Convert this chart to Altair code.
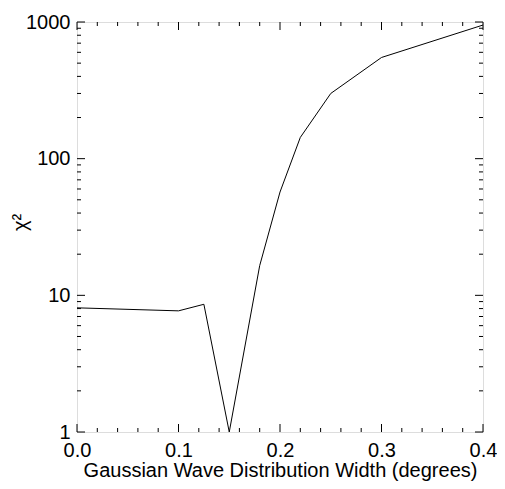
import altair as alt
import pandas as pd

# Data
width_deg = [0.0, 0.1, 0.125, 0.15, 0.18, 0.2, 0.22, 0.25, 0.3, 0.4]
chi2 = [8.1, 7.7, 8.6, 1.0, 16.5, 57.0, 143.0, 300.0, 550.0, 950.0]

x_major = [0.0, 0.1, 0.2, 0.3, 0.4]
x_minor = [0.02, 0.04, 0.06, 0.08, 0.12, 0.14, 0.16, 0.18,
           0.22, 0.24, 0.26, 0.28, 0.32, 0.34, 0.36, 0.38]
y_major = [1, 10, 100, 1000]
y_minor = [2, 3, 4, 5, 6, 7, 8, 9,
           20, 30, 40, 50, 60, 70, 80, 90,
           200, 300, 400, 500, 600, 700, 800, 900]

W, H = 406, 410
FONT = "Liberation Sans"

df = pd.DataFrame({"x": width_deg, "y": chi2})
xmaj = pd.DataFrame({"x": x_major})
xmin = pd.DataFrame({"x": x_minor})
ymaj = pd.DataFrame({"y": y_major})
ymin = pd.DataFrame({"y": y_minor})

xscale = alt.Scale(domain=[0, 0.4], nice=False, zero=False)
yscale = alt.Scale(type="log", domain=[1, 1000], nice=False)

line = alt.Chart(df).mark_line(color="black", strokeWidth=1).encode(
    x=alt.X("x:Q", scale=xscale,
            axis=alt.Axis(values=x_major, format=".1f", ticks=False, tickSize=0,
                          grid=False, domain=False, labelFlush=False,
                          labelOverlap=False, labelPadding=8, labelFontSize=20,
                          labelFont=FONT, labelColor="black",
                          title="Gaussian Wave Distribution Width (degrees)",
                          titleFont=FONT, titleFontSize=20, titleFontWeight="normal",
                          titleColor="black", titleBaseline="alphabetic",
                          titleAlign="center", titleX=W / 2, titleY=44)),
    y=alt.Y("y:Q", scale=yscale,
            axis=alt.Axis(values=y_major, format="d", ticks=False, tickSize=0,
                          grid=False, domain=False, labelFlush=False,
                          labelOverlap=False, labelPadding=7, labelFontSize=20,
                          labelFont=FONT, labelColor="black",
                          title="χ²", titleFont=FONT, titleFontSize=20,
                          titleFontWeight="normal", titleColor="black",
                          titleAngle=-90, titleAlign="center", titleBaseline="middle",
                          titleX=-57, titleY=200)),
)

def xticks(data, length):
    bottom = alt.Chart(data).mark_rule(color="black", strokeWidth=1).encode(
        x=alt.X("x:Q", scale=xscale), y=alt.value(H), y2=alt.value(H - length))
    top = alt.Chart(data).mark_rule(color="black", strokeWidth=1).encode(
        x=alt.X("x:Q", scale=xscale), y=alt.value(0), y2=alt.value(length))
    return [bottom, top]

def yticks(data, length):
    left = alt.Chart(data).mark_rule(color="black", strokeWidth=1).encode(
        y=alt.Y("y:Q", scale=yscale), x=alt.value(0), x2=alt.value(length))
    right = alt.Chart(data).mark_rule(color="black", strokeWidth=1).encode(
        y=alt.Y("y:Q", scale=yscale), x=alt.value(W), x2=alt.value(W - length))
    return [left, right]

layers = [line] + xticks(xmaj, 8) + xticks(xmin, 4) + yticks(ymaj, 8) + yticks(ymin, 4)

chart = alt.layer(*layers).properties(
    width=W, height=H,
    autosize=alt.AutoSizeParams(type="none"),
    padding={"left": 69, "top": 14, "right": 14, "bottom": 49},
).configure_view(
    stroke="black", strokeWidth=1
).configure(background="white")

chart.save("out.html", embed_options={"renderer": "svg", "actions": False})
